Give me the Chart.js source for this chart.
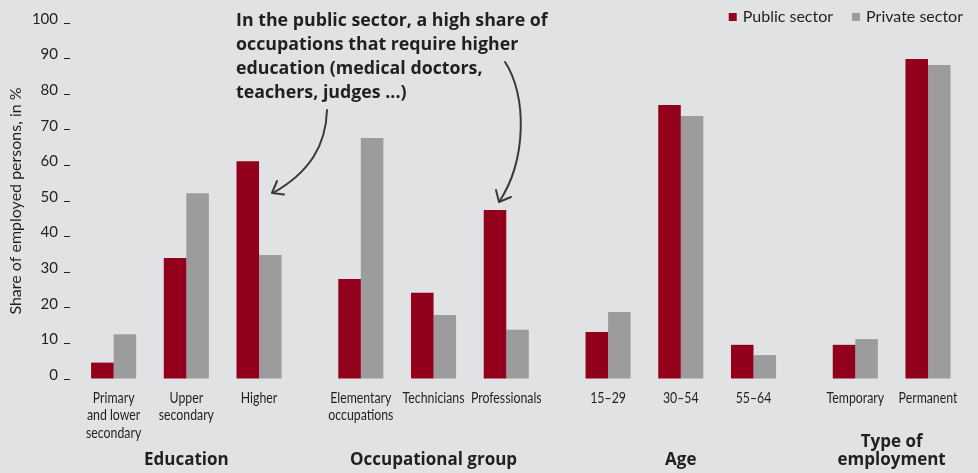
<!DOCTYPE html>
<html><head><meta charset="utf-8">
<script src="https://cdn.jsdelivr.net/npm/chart.js@4"></script>
<style>
html,body{margin:0;padding:0;background:#e1e2e4;}
#wrap{width:978px;height:473px;position:relative;}
</style></head><body>
<div id="wrap"><canvas id="c"></canvas></div>
<script>
// ---- data ----
const categories = [['Primary','and lower','secondary'], ['Upper','secondary'], 'Higher',
  ['Elementary','occupations'], 'Technicians', 'Professionals',
  '15–29', '30–54', '55–64', 'Temporary', 'Permanent'];
const groupIndex = [0,0,0,1,1,1,2,2,2,3,3];
const groupNames = ['Education', 'Occupational group', 'Age', ['Type of','employment']];
const publicSector  = [4.6, 34.0, 61.2, 28.1, 24.2, 47.5, 13.2, 77.0, 9.6, 9.6, 89.9];
const privateSector = [12.6, 52.2, 34.8, 67.7, 18.0, 13.8, 18.8, 73.9, 6.7, 11.2, 88.2];
const yTickValues = [0,10,20,30,40,50,60,70,80,90,100];
const seriesNames = ['Public sector', 'Private sector'];
const yTitle = 'Share of employed persons, in %';
const annotationLines = ['In the public sector, a high share of','occupations that require higher','education (medical doctors,','teachers, judges ...)'];

// ---- style ----
const RED = '#93001b', GREY = '#9c9c9c', TEXT = '#231f20';
const FONT = "Lato, 'Open Sans', sans-serif";
const BOLDFONT = "'Open Sans', Lato, sans-serif";
const GROUP_GAP = 0.4;
const xPos = categories.map((c, i) => i + groupIndex[i] * GROUP_GAP);

const decor = {
  id: 'decor',
  afterDraw(chart) {
    const ctx = chart.ctx, xs = chart.scales.x, ys = chart.scales.y;
    ctx.save();
    // legend (right aligned)
    ctx.font = '16px ' + FONT;
    ctx.textBaseline = 'middle';
    const colors = [RED, GREY];
    const items = seriesNames.map((n, i) => ({n, c: colors[i], w: ctx.measureText(n).width}));
    let x = 963;
    for (let i = items.length - 1; i >= 0; i--) { x -= items[i].w; items[i].tx = x; x -= 6 + 8; items[i].bx = x; x -= 19; }
    items.forEach(it => {
      ctx.fillStyle = it.c; ctx.fillRect(it.bx, 13, 8, 8);
      ctx.fillStyle = TEXT; ctx.textAlign = 'left'; ctx.fillText(it.n, it.tx, 17);
    });
    // category labels (condensed)
    ctx.font = '15px ' + FONT;
    ctx.textAlign = 'center'; ctx.textBaseline = 'middle'; ctx.fillStyle = TEXT;
    categories.forEach((c, i) => {
      const px = xs.getPixelForValue(xPos[i]);
      const lines = Array.isArray(c) ? c : [c];
      lines.forEach((l, li) => {
        ctx.save(); ctx.translate(px, ys.bottom + 19 + li * 17.5); ctx.scale(0.82, 1);
        ctx.fillText(l, 0, 0); ctx.restore();
      });
    });
    // group labels
    ctx.font = 'bold 17px ' + BOLDFONT;
    ctx.textAlign = 'center'; ctx.fillStyle = TEXT; ctx.textBaseline = 'middle';
    groupNames.forEach((g, gi) => {
      const members = xPos.filter((v, i) => groupIndex[i] === gi);
      const cx = xs.getPixelForValue(members.reduce((a, b) => a + b, 0) / members.length);
      const lines = Array.isArray(g) ? g : [g];
      lines.forEach((l, li) => ctx.fillText(l, cx, 460 - (lines.length - 1 - li) * 18));
    });
    // annotation
    ctx.font = 'bold 18px ' + BOLDFONT;
    const w0 = ctx.measureText(annotationLines[0]).width;
    ctx.font = 'bold ' + (18 * 312 / w0).toFixed(2) + 'px ' + BOLDFONT;
    ctx.textAlign = 'left'; ctx.textBaseline = 'alphabetic';
    annotationLines.forEach((l, i) => ctx.fillText(l, 236, 25.5 + i * 24));
    // arrows
    ctx.strokeStyle = '#3a3a3a'; ctx.lineWidth = 2; ctx.lineCap = 'round'; ctx.lineJoin = 'round';
    ctx.beginPath(); ctx.moveTo(327, 110); ctx.bezierCurveTo(326, 145, 310, 172, 273, 193); ctx.stroke();
    ctx.beginPath(); ctx.moveTo(277, 181); ctx.lineTo(272, 193); ctx.lineTo(284, 194.5); ctx.stroke();
    ctx.beginPath(); ctx.moveTo(505, 62); ctx.bezierCurveTo(527, 95, 527, 160, 499, 202); ctx.stroke();
    ctx.beginPath(); ctx.moveTo(496, 190); ctx.lineTo(499, 202); ctx.lineTo(511, 197); ctx.stroke();
    ctx.restore();
  }
};

new Chart(document.getElementById('c'), {
  type: 'bar',
  data: {
    datasets: [
      { label: seriesNames[0], data: publicSector.map((v, i) => ({x: xPos[i], y: v})), backgroundColor: RED },
      { label: seriesNames[1], data: privateSector.map((v, i) => ({x: xPos[i], y: v})), backgroundColor: GREY }
    ]
  },
  options: {
    responsive: true, maintainAspectRatio: false, animation: false,
    categoryPercentage: 0.62, barPercentage: 1,
    layout: { padding: { top: 23, right: 10, bottom: 0, left: 0 } },
    plugins: { legend: { display: false }, tooltip: { enabled: false } },
    scales: {
      x: {
        type: 'linear', min: -0.6, max: 11.75, offset: false,
        grid: { display: false, drawTicks: false, offset: false }, border: { display: false },
        afterBuildTicks: s => { s.ticks = xPos.map(v => ({value: v})); },
        afterFit: s => { s.height = 94; },
        ticks: { display: false }
      },
      y: {
        min: 0, max: 100,
        afterBuildTicks: s => { s.ticks = yTickValues.map(v => ({value: v})); },
        afterFit: s => { s.width = 70; },
        grid: { display: true, drawOnChartArea: false, drawTicks: true, tickLength: 6, color: TEXT, lineWidth: 1 },
        border: { display: false },
        ticks: { padding: 6, labelOffset: -4, color: TEXT, font: { family: FONT, size: 15 } },
        title: { display: true, text: yTitle, color: TEXT, font: { family: FONT, size: 16 }, padding: { top: 6, bottom: 0 } }
      }
    }
  },
  plugins: [decor]
});
</script>
</body></html>
